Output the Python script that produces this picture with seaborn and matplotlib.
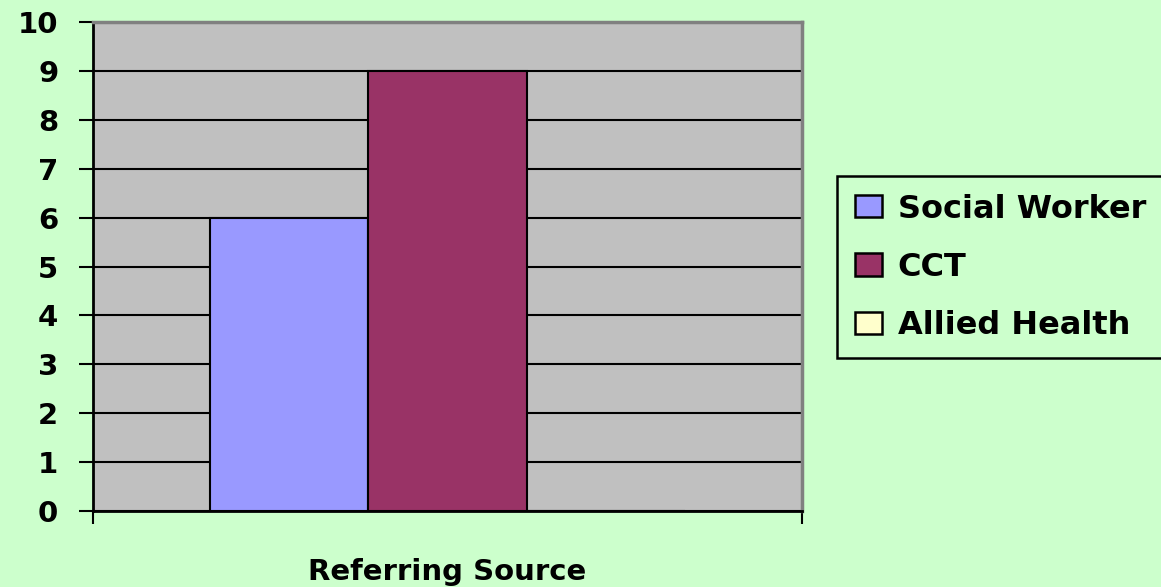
import pandas as pd
import seaborn as sns
import matplotlib.pyplot as plt

# chart data
sources = ["Social Worker", "CCT", "Allied Health"]
counts = [6, 9, 0]
colors = ["#9999FF", "#993366", "#FFFFCC"]
y_ticks = list(range(0, 11))

df = pd.DataFrame({"group": ["Referring Source"] * 3, "source": sources, "count": counts})

sns.set_style("white")
plt.rcParams["font.family"] = ["DejaVu Sans"]
plt.rcParams["font.weight"] = "bold"
plt.rcParams["text.color"] = "black"
plt.rcParams["xtick.color"] = "black"
plt.rcParams["ytick.color"] = "black"
plt.rcParams["axes.labelcolor"] = "black"

fig = plt.figure(figsize=(11.61, 5.87), dpi=100, facecolor="#CCFFCC")
ax = fig.add_axes([93 / 1161, 1 - 511 / 587, (802 - 93) / 1161, (511 - 22) / 587])
ax.set_facecolor("#C0C0C0")

sns.barplot(data=df, x="group", y="count", hue="source", hue_order=sources,
            palette=colors, width=0.67, gap=0, edgecolor="black", linewidth=1.5,
            saturation=1, ax=ax, legend=True)

ax.set_ylim(0, 10)
ax.set_xlim(-0.5, 0.5)
ax.set_yticks(y_ticks)
ax.set_yticklabels([str(t) for t in y_ticks], fontsize=21, fontweight="bold")
ax.set_xticks([-0.5, 0.5])
ax.set_xticklabels(["", ""])
ax.tick_params(axis="y", direction="out", length=10, width=1.5, pad=15, left=True,
               color="black", labelcolor="black")
ax.tick_params(axis="x", direction="out", length=9, width=1.5, bottom=True, color="black")
ax.yaxis.grid(True, color="black", linewidth=1.5)
ax.set_axisbelow(True)

for side in ["left", "bottom"]:
    ax.spines[side].set_color("black")
    ax.spines[side].set_linewidth(2)
for side in ["top", "right"]:
    ax.spines[side].set_color("#808080")
    ax.spines[side].set_linewidth(2.5)

ax.set_ylabel("")
ax.set_xlabel("Referring Source", fontsize=21, fontweight="bold", color="black")
ax.xaxis.set_label_coords(0.5, (511 - 572) / 489)
ax.xaxis.label.set_va("center")

handles, labels = ax.get_legend_handles_labels()
ax.legend_.remove()
leg = fig.legend(handles, labels, loc="upper left", bbox_to_anchor=(837 / 1161, 1 - 176 / 587),
                 frameon=True, fancybox=False, edgecolor="black", facecolor="#CCFFCC",
                 framealpha=1, prop={"size": 23, "weight": "bold"}, handlelength=0.85,
                 handleheight=0.69, handletextpad=0.5, labelspacing=0.85, borderpad=0.55,
                 borderaxespad=0, labelcolor="black")
leg.get_frame().set_linewidth(1.8)
for h in leg.legend_handles:
    h.set_edgecolor("black")
    h.set_linewidth(1.8)

fig.savefig("out.png", dpi=100, facecolor=fig.get_facecolor())
